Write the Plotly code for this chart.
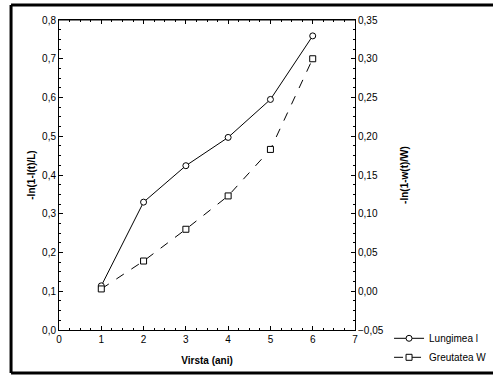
import plotly.graph_objects as go

age = [1, 2, 3, 4, 5, 6]
lungimea = [0.114, 0.330, 0.424, 0.497, 0.595, 0.759]
greutatea = [0.003, 0.039, 0.080, 0.123, 0.183, 0.300]

x_ticks = [0, 1, 2, 3, 4, 5, 6, 7]
left_ticks = [0.0, 0.1, 0.2, 0.3, 0.4, 0.5, 0.6, 0.7, 0.8]
right_ticks = [-0.05, 0.00, 0.05, 0.10, 0.15, 0.20, 0.25, 0.30, 0.35]

font = dict(family="Liberation Sans, Arial", size=10, color="black")

fig = go.Figure()
fig.add_trace(go.Scatter(
    x=age, y=lungimea, name="Lungimea l", mode="lines+markers",
    line=dict(color="black", width=1),
    marker=dict(symbol="circle", size=6, color="white", line=dict(width=1, color="black")),
    yaxis="y"))
fig.add_trace(go.Scatter(
    x=age, y=greutatea, name="Greutatea W", mode="lines+markers",
    line=dict(color="black", width=1, dash="dash"),
    marker=dict(symbol="square", size=6, color="white", line=dict(width=1, color="black")),
    yaxis="y2"))

axis_common = dict(showgrid=False, zeroline=False, showline=True, linecolor="black",
                   linewidth=1, ticks="inside", ticklen=4, tickcolor="black",
                   tickfont=font, automargin=False)

fig.update_layout(
    width=493, height=378,
    margin=dict(l=59, r=138, t=20, b=48, autoexpand=False),
    paper_bgcolor="white", plot_bgcolor="white",
    separators=", ",
    font=font,
    showlegend=True,
    legend=dict(x=1.115, y=0.02, xanchor="left", yanchor="top",
                font=dict(family="Liberation Sans, Arial", size=10, color="black"),
                bgcolor="rgba(0,0,0,0)", tracegroupgap=0, itemwidth=30),
    xaxis=dict(axis_common, range=[0, 7], tickmode="array", tickvals=x_ticks,
               ticktext=[str(v) for v in x_ticks], mirror="ticks",
               minor=dict(ticks="inside", ticklen=2, dtick=0.25, tickcolor="black"),
               title=dict(text="<b>Virsta (ani)</b>", font=dict(size=10), standoff=12)),
    yaxis=dict(axis_common, range=[0, 0.8], tickmode="array", tickvals=left_ticks,
               tickformat=".1f",
               minor=dict(ticks="inside", ticklen=2, dtick=0.025, tickcolor="black"),
               title=dict(text="<b>-ln(1-l(t)/L)</b>", font=dict(size=10), standoff=4)),
    yaxis2=dict(axis_common, range=[-0.05, 0.35], overlaying="y", side="right",
                tickmode="array", tickvals=right_ticks, tickformat=".2f",
                minor=dict(ticks="inside", ticklen=2, dtick=0.0125, tickcolor="black"),
                title=dict(text="<b>-ln(1-w(t)/W)</b>", font=dict(size=10), standoff=18)),
)

# outer frame
frame = dict(type="line", xref="paper", yref="paper", line=dict(color="black", width=3))
fig.add_shape(frame, x0=-0.162, x1=1.6, y0=1.048, y1=1.048)
fig.add_shape(frame, x0=-0.162, x1=1.6, y0=-0.1387, y1=-0.1387)
fig.add_shape(frame, x0=-0.162, x1=-0.162, y0=-0.1387, y1=1.048)
# top axis line
fig.add_shape(type="line", xref="paper", yref="paper", x0=0, x1=1, y0=1, y1=1,
              line=dict(color="black", width=1))

fig.write_html("out.html", config={"displayModeBar": False},
               post_script="document.body.style.margin='0';")
